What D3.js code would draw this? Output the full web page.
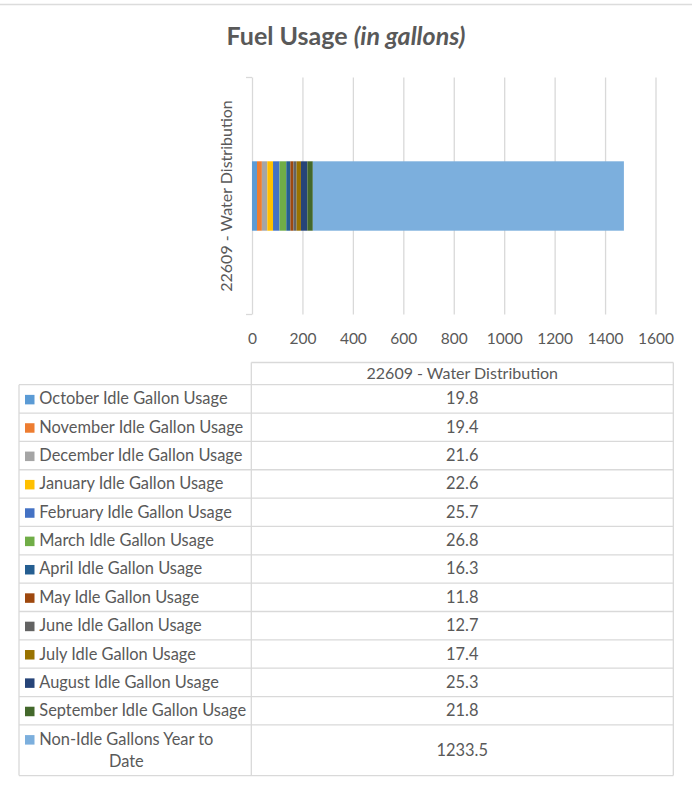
<!DOCTYPE html>
<html>
<head>
<meta charset="utf-8">
<script src="https://cdn.jsdelivr.net/npm/d3@7"></script>
<style>
body { margin: 0; background: #fff; }
text { font-family: Lato, "Open Sans", sans-serif; fill: #595959; }
</style>
</head>
<body>
<svg></svg>
<script>
var w = 692, h = 794

// data
var category = "22609 - Water Distribution"
var seriesNames = [
    "October Idle Gallon Usage",
    "November Idle Gallon Usage",
    "December Idle Gallon Usage",
    "January Idle Gallon Usage",
    "February Idle Gallon Usage",
    "March Idle Gallon Usage",
    "April Idle Gallon Usage",
    "May Idle Gallon Usage",
    "June Idle Gallon Usage",
    "July Idle Gallon Usage",
    "August Idle Gallon Usage",
    "September Idle Gallon Usage",
    "Non-Idle Gallons Year to\nDate"
]
var seriesValues = [19.8, 19.4, 21.6, 22.6, 25.7, 26.8, 16.3, 11.8, 12.7, 17.4, 25.3, 21.8, 1233.5]
var seriesColors = ["#5b9bd5", "#ed7d31", "#a5a5a5", "#ffc000", "#4472c4", "#70ad47",
    "#255e91", "#9e480e", "#636363", "#997300", "#264478", "#43682b", "#7cafdd"]
var xTicks = [0, 200, 400, 600, 800, 1000, 1200, 1400, 1600]

var grid = "#d9d9d9"
var fs = "16.4px"

var svg = d3.select("svg")
    .attr("width", w)
    .attr("height", h)

svg.append("rect")
    .attr("width", "100%")
    .attr("height", "100%")
    .attr("fill", "#fff")

// frame edge along the top
svg.append("line")
    .attr("x1", 0).attr("x2", w)
    .attr("y1", 4.5).attr("y2", 4.5)
    .attr("stroke", "#dcdcdc")
    .attr("stroke-width", 1.5)

var title = svg.append("text")
    .attr("x", 346)
    .attr("y", 45)
    .attr("text-anchor", "middle")
    .style("font-size", "25px")
    .style("font-weight", "bold")
title.append("tspan").text("Fuel Usage ")
title.append("tspan").style("font-style", "italic").text("(in gallons)")

// plot area
var plot = { left: 252, right: 655.5, top: 77.5, bottom: 314.5 }

var x = d3.scaleLinear()
    .domain([0, 1600])
    .range([plot.left, plot.right])

var y = d3.scaleBand()
    .domain([category])
    .range([plot.top, plot.bottom])
    .padding(0.547)

// gridlines
svg.append("g")
    .attr("transform", "translate(0," + plot.bottom + ")")
    .call(d3.axisBottom(x).tickValues(xTicks).tickSize(-(plot.bottom - plot.top)).tickFormat(""))
    .call(function(g) { g.select(".domain").remove() })
    .selectAll("line")
        .attr("stroke", grid)
        .attr("stroke-width", 1.3)

// value labels
var xAxis = svg.append("g")
    .attr("transform", "translate(0," + plot.bottom + ")")
    .call(d3.axisBottom(x).tickValues(xTicks).tickSize(0).tickPadding(18.5).tickFormat(d3.format("d")))
xAxis.select(".domain").remove()
xAxis.selectAll("text")
    .style("font-family", "Lato, sans-serif")
    .style("font-size", "15.5px")
    .attr("fill", "#595959")

// category axis tick marks at the band edges
svg.append("g")
    .selectAll("line")
    .data(y.range())
    .enter().append("line")
        .attr("x1", plot.left - 6)
        .attr("x2", plot.left)
        .attr("y1", function(d) { return d })
        .attr("y2", function(d) { return d })
        .attr("stroke", grid)
        .attr("stroke-width", 1.3)

svg.append("text")
    .attr("transform", "translate(232," + (y(category) + y.bandwidth() / 2) + ") rotate(-90)")
    .attr("text-anchor", "middle")
    .style("font-size", "16px")
    .text(category)

// stacked bar
var row = { cat: category }
seriesNames.forEach(function(n, i) { row[n] = seriesValues[i] })
var stacked = d3.stack().keys(seriesNames)([row])

svg.append("g")
    .selectAll("rect")
    .data(stacked)
    .enter().append("rect")
        .attr("x", function(s) { return x(s[0][0]) })
        .attr("width", function(s) { return x(s[0][1]) - x(s[0][0]) })
        .attr("y", y(category))
        .attr("height", y.bandwidth())
        .attr("fill", function(s, i) { return seriesColors[i] })

// data table
var tbl = { left: 19, mid: 251.3, right: 673.3, headTop: 362.5, top: 384.7, rowH: 28.35, lastH: 50.7 }
var rowTops = seriesNames.map(function(n, i) { return tbl.top + i * tbl.rowH })
var tblBottom = rowTops[rowTops.length - 1] + tbl.lastH
var fmt = d3.format(".1f")

var tg = svg.append("g")

function hline(x1, x2, yy) {
    tg.append("line").attr("x1", x1).attr("x2", x2).attr("y1", yy).attr("y2", yy)
        .attr("stroke", grid).attr("stroke-width", 1.3)
}
function vline(xx, y1, y2) {
    tg.append("line").attr("x1", xx).attr("x2", xx).attr("y1", y1).attr("y2", y2)
        .attr("stroke", grid).attr("stroke-width", 1.3)
}

hline(tbl.mid, tbl.right, tbl.headTop)
rowTops.forEach(function(t) { hline(tbl.left, tbl.right, t) })
hline(tbl.left, tbl.right, tblBottom)
vline(tbl.left, tbl.top, tblBottom)
vline(tbl.mid, tbl.headTop, tblBottom)
vline(tbl.right, tbl.headTop, tblBottom)

tg.append("text")
    .attr("x", (tbl.mid + tbl.right) / 2)
    .attr("y", tbl.headTop + 16.5)
    .attr("text-anchor", "middle")
    .style("font-size", "16px")
    .text(category)

var rows = tg.selectAll("g.row")
    .data(seriesNames)
    .enter().append("g")
        .attr("class", "row")

rows.each(function(name, i) {
    var g = d3.select(this)
    var top = rowTops[i]
    var hgt = i == seriesNames.length - 1 ? tbl.lastH : tbl.rowH
    var lines = name.split("\n")
    var base1 = lines.length > 1 ? top + 19.7 : top + hgt / 2 + 5.5

    g.append("rect")
        .attr("x", 25)
        .attr("y", base1 - 9.5)
        .attr("width", 9.5)
        .attr("height", 9.5)
        .attr("fill", seriesColors[i])

    var t1 = g.append("text")
        .attr("x", 39.3)
        .attr("y", base1)
        .style("font-size", fs)
        .text(lines[0])
    if (lines.length > 1) {
        var wd = t1.node().getComputedTextLength()
        g.append("text")
            .attr("x", 39.3 + wd / 2)
            .attr("y", base1 + 22)
            .attr("text-anchor", "middle")
            .style("font-size", fs)
            .text(lines[1])
    }

    g.append("text")
        .attr("x", (tbl.mid + tbl.right) / 2)
        .attr("y", top + hgt / 2 + 5.5)
        .attr("text-anchor", "middle")
        .style("font-size", fs)
        .text(fmt(seriesValues[i]))
})
</script>
</body>
</html>
